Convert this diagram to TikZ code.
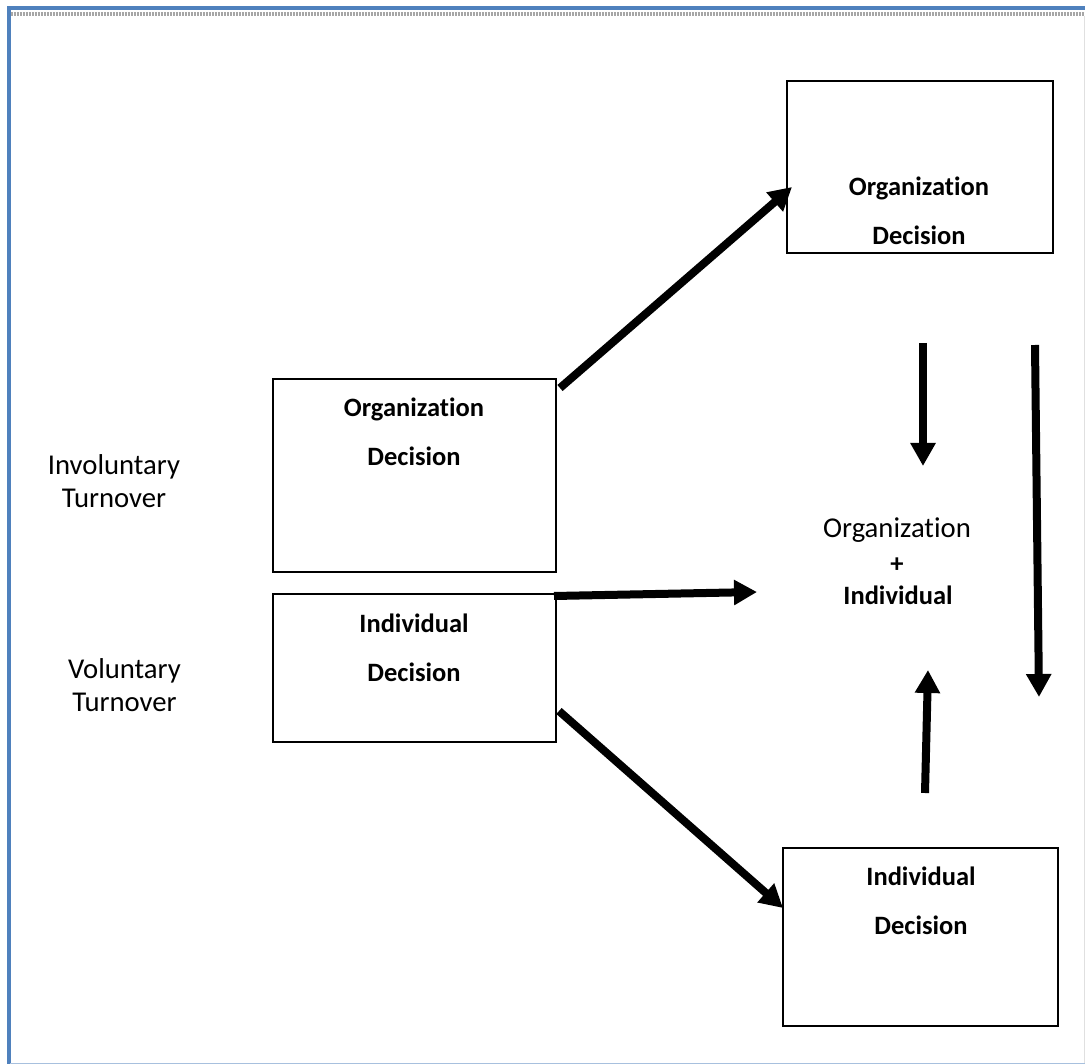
\documentclass[tikz,border=0pt]{standalone}
\usepackage{fontspec}
\setmainfont{Carlito}[Ligatures=NoCommon]
\usetikzlibrary{arrows.meta,calc}
\definecolor{frameblue}{RGB}{79,129,189}

\begin{document}
\begin{tikzpicture}[x=1pt,y=-1pt,
	box/.style={draw, line width=1.6pt, inner sep=0pt},
	boxtext/.style={align=center, inner sep=0pt, font=\fontsize{26.5}{49}\selectfont\bfseries},
	sidetext/.style={align=center, inner sep=0pt, font=\fontsize{28.7}{33}\selectfont},
	fatarrow/.style={line width=8pt, -{Triangle[length=23pt,width=24pt]}}]
		%%%%% START %%%%%
		
		\useasboundingbox (0,0) rectangle (1085,1064);
		\fill[white] (0,0) rectangle (1085,1064);
		
		% page frame
		\draw[line width=4pt, color=frameblue] (8.5,1064) -- (8.5,8.5) -- (1085,8.5);
		\draw[line width=3.5pt, color=black!35, dash pattern=on 2pt off 1pt] (10.5,14) -- (1085,14);
		\draw[line width=1pt, color=frameblue!50] (10,1063.5) -- (1085,1063.5);
		\draw[line width=0.8pt, color=black!12] (1084,16) -- (1084,1063);
		
		% boxes
		\node[box, minimum width=266, minimum height=172] (orgtop) at (920,167) {};
		\node[box, minimum width=283, minimum height=193] (orgmid) at (414.5,475.5) {};
		\node[box, minimum width=283, minimum height=148] (indmid) at (414.5,668) {};
		\node[box, minimum width=275, minimum height=178] (indbot) at (920.5,937) {};
		
		\node[boxtext] (orgtoptext) at (919,211) {Organization\\Decision};
		\node[boxtext] (orgmidtext) at (414,431.5) {Organization\\Decision};
		\node[boxtext] (indmidtext) at (414,647.5) {Individual\\Decision};
		\node[boxtext] (indbottext) at (921,900.5) {Individual\\Decision};
		
		% side labels
		\node[sidetext] (invol) at (114,481) {Involuntary\\Turnover};
		\node[sidetext] (vol) at (124.5,685.5) {Voluntary\\Turnover};
		
		% middle
		\node[sidetext] (mixorg) at (897,530) {Organization};
		\node[boxtext] (mixplus) at (897,565) {+};
		\node[boxtext] (mixind) at (898,595) {Individual};
		
		% arrows
		\coordinate (a1s) at (560,388);
		\coordinate (a1e) at (792,187);
		\coordinate (a2s) at (554,596);
		\coordinate (a2e) at (757,592);
		\coordinate (a3s) at (559,711);
		\coordinate (a3e) at (783,908);
		\coordinate (a4s) at (923,343);
		\coordinate (a4e) at (923,466);
		\coordinate (a5s) at (1035,345);
		\coordinate (a5e) at (1039,697);
		\coordinate (a6s) at (925,793);
		\coordinate (a6e) at (928,670);
		
		\draw[fatarrow] (a1s) -- (a1e);
		\draw[fatarrow] (a2s) -- (a2e);
		\draw[fatarrow] (a3s) -- (a3e);
		\draw[fatarrow] (a4s) -- (a4e);
		\draw[fatarrow] (a5s) -- (a5e);
		\draw[fatarrow] (a6s) -- (a6e);
		
		%%%%% END %%%%%
	\end{tikzpicture}
\end{document}
